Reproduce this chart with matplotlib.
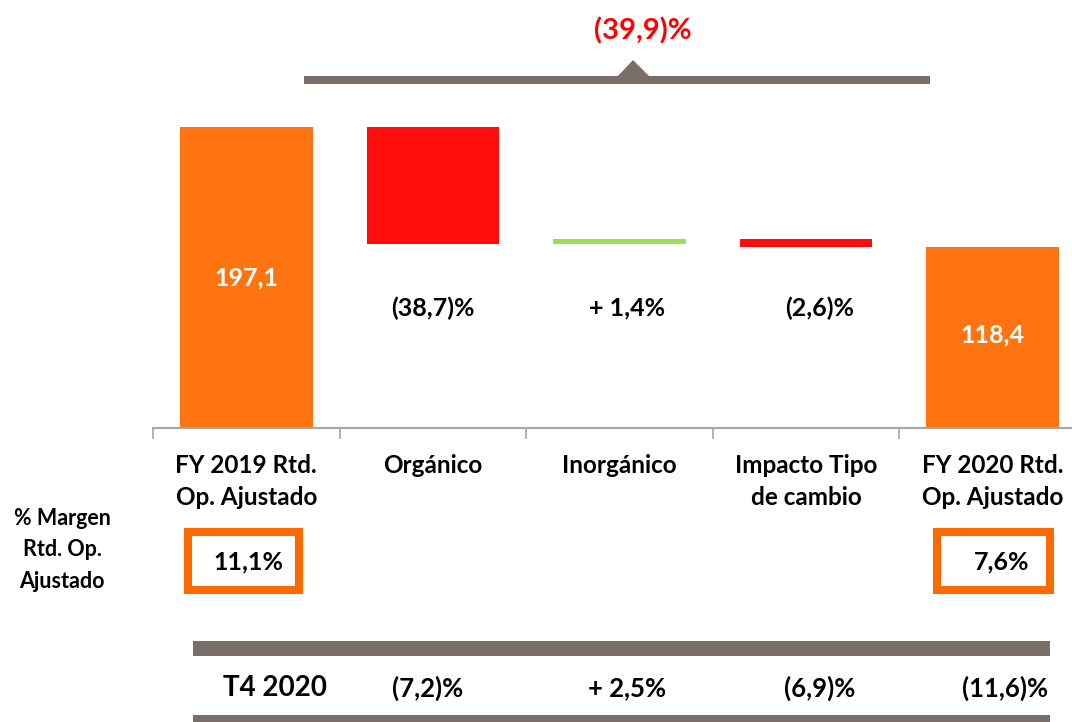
import matplotlib.pyplot as plt
from matplotlib.patches import Rectangle, Polygon
from matplotlib.lines import Line2D

# Data
categories = ['FY 2019 Rtd.\nOp. Ajustado', 'Orgánico', 'Inorgánico',
              'Impacto Tipo\nde cambio', 'FY 2020 Rtd.\nOp. Ajustado']
start_value = 197.1
end_value = 118.4
deltas = [-76.3, 2.7, -5.1]
delta_labels = ['(38,7)%', '+ 1,4%', '(2,6)%']
total_label = '(39,9)%'
margin_labels = ['11,1%', '7,6%']
q4_labels = ['T4 2020', '(7,2)%', '+ 2,5%', '(6,9)%', '(11,6)%']

ORANGE = '#FF7410'
RED = '#FF0D0D'
GREEN = '#A0DC5A'
GREY = '#7B6E68'
BOX = '#FF6A00'

plt.rcParams['font.family'] = ['Lato', 'DejaVu Sans']
plt.rcParams['font.weight'] = 'bold'

W, H = 1072, 722
fig = plt.figure(figsize=(W / 100, H / 100), dpi=100)


def px(x, y):
    # pixel position (from top-left) -> figure fraction
    return x / W, 1 - y / H


ax = fig.add_axes([153 / W, 1 - 428 / H, (1086 - 153) / W, 428 / H])

# waterfall bars
heights = [start_value]
bottoms = [0]
colors = [ORANGE]
level = start_value
for d in deltas:
    new = level + d
    bottoms.append(min(level, new))
    heights.append(abs(d))
    colors.append(GREEN if d > 0 else RED)
    level = new
heights.append(end_value)
bottoms.append(0)
colors.append(ORANGE)

x = list(range(len(categories)))
ax.bar(x, heights, bottom=bottoms, width=0.71, color=colors)

ax.set_xlim(-0.5, 4.5)
ax.set_ylim(0, 280.3)
for s in ['top', 'right', 'left']:
    ax.spines[s].set_visible(False)
ax.spines['bottom'].set_color('#A6A6A6')
ax.spines['bottom'].set_linewidth(1.5)
ax.set_yticks([])
ax.set_xticks(x)
ax.set_xticklabels(categories, fontsize=17.5, fontweight='bold', linespacing=1.5)
ax.tick_params(axis='x', which='major', length=0, pad=18.5)
ax.set_xticks([i - 0.5 for i in range(len(categories) + 1)], minor=True)
ax.tick_params(axis='x', which='minor', length=8, color='#A6A6A6', width=1.2)

# value labels
ax.text(0, start_value / 2, '197,1', ha='center', va='center',
        color='white', fontsize=18, fontweight='bold')
ax.text(4, end_value / 2 + 2, '118,4', ha='center', va='center',
        color='white', fontsize=18, fontweight='bold')
for i, lab in enumerate(delta_labels):
    ax.text(i + 1 + [0, 0.04, 0.07][i], 78.6, lab, ha='center', va='center',
            fontsize=18, fontweight='bold')

# bracket on top
fig.add_artist(Line2D([304 / W, 930 / W], [1 - 80 / H, 1 - 80 / H],
                      color=GREY, lw=5.8, solid_capstyle='butt'))
fig.add_artist(Polygon([px(617, 77), px(633, 60), px(650, 77)],
                       closed=True, color=GREY, lw=0))
fig.text(*px(643, 31), total_label, ha='center', va='center',
         color='#FF0000', fontsize=21, fontweight='bold')

# margin row
fig.text(*px(62, 550), '% Margen\nRtd. Op.\nAjustado', ha='center', va='center',
         fontsize=15.5, fontweight='bold', linespacing=1.6)
for (x0, x1), lab, tx in zip([(188, 299), (937, 1050)], margin_labels, [248, 1002]):
    l, b = px(x0, 590)
    r, t = px(x1, 532)
    fig.add_artist(Rectangle((l, b), r - l, t - b, facecolor='white',
                             edgecolor=BOX, lw=5.8))
    fig.text(*px(tx, 562), lab, ha='center', va='center',
             fontsize=18, fontweight='bold')

# Q4 row
for y0, y1 in [(641, 656), (715, 730)]:
    l, b = px(193, y1)
    r, t = px(1050, y0)
    fig.add_artist(Rectangle((l, b), r - l, t - b, facecolor=GREY, lw=0))
for xc, lab in zip([275, 428, 627, 820, 1005], q4_labels):
    fig.text(*px(xc, 688), lab, ha='center', va='center',
             fontsize=20 if lab == 'T4 2020' else 18.5, fontweight='bold')

fig.savefig('out.png', dpi=100)
